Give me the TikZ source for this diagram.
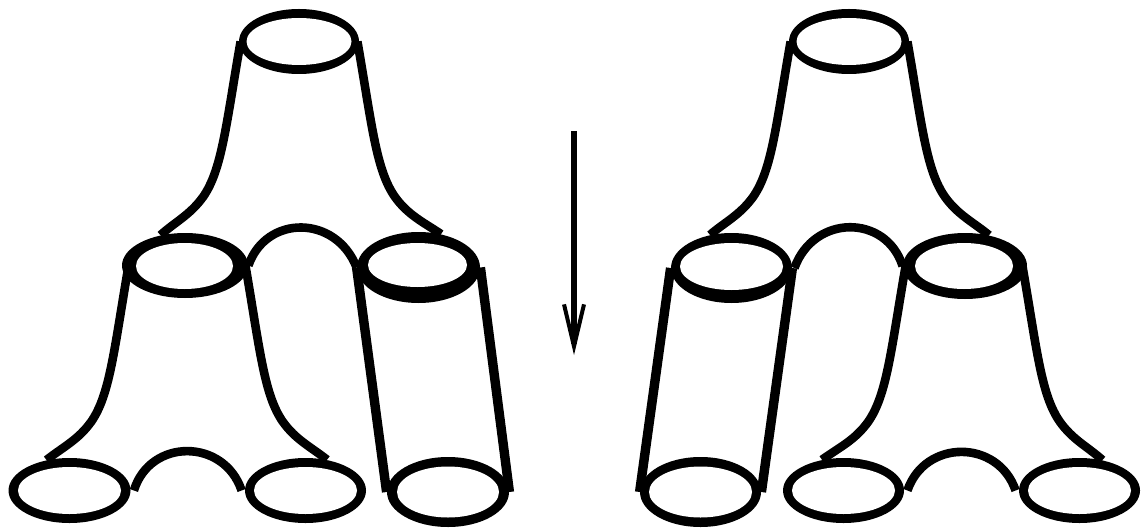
\documentclass[tikz,border=0pt]{standalone}
\usepackage{xcolor}
\usetikzlibrary{shapes.geometric, arrows.meta, positioning}
\tikzset{
  %% Outer edge of a circle
  rim/.style 2 args={
    ellipse, fill=black, inner sep=0pt,
    minimum width=#1*0.5pt, minimum height=#2*0.5pt
  },
  %% Hole inside a rim
  hole/.style 2 args={
    ellipse, fill=white, inner sep=0pt,
    minimum width=#1*0.5pt, minimum height=#2*0.5pt
  },
  %% Curved walls and straight tubes
  wall/.style={draw=black, line width=4.3pt},
  tube/.style={draw=black, line width=4.7pt},
  %% Arrow
  arr/.style={-{Straight Barb[length=21pt,width=10pt,line width=2pt]},
              draw=black, line width=3pt},
}
\begin{document}
\begin{tikzpicture}[x=0.5pt, y=-0.5pt]
  \useasboundingbox (0,0) rectangle (1143,529);

  %% Left surface circles
  \node[rim={120}{65}]   (ltop) at (299,41.5)  {};
  \node[hole={105}{47}]  (ltoph) at (299,41.5) {};
  \node[rim={126}{65}]   (lmida) at (185,265.5) {};
  \node[hole={97}{46}]   (lmidah) at (184.5,266) {};
  \node[rim={123}{71}]   (lmidb) at (418.5,267.5) {};
  \node[hole={99}{44}]   (lmidbh) at (417.5,265) {};
  \node[rim={122}{65}]   (lbota) at (69.5,490.5) {};
  \node[hole={103}{47}]  (lbotah) at (69.5,490.5) {};
  \node[rim={121}{65}]   (lbotb) at (305.5,490.5) {};
  \node[hole={103}{47}]  (lbotbh) at (305.5,490.5) {};
  \node[rim={122}{70}]   (lbotc) at (448,492)  {};
  \node[hole={102}{51}]  (lbotch) at (448,492) {};

  %% Right surface circles
  \node[rim={120}{65}]   (rtop) at (849,41.5)  {};
  \node[hole={105}{47}]  (rtoph) at (849,41.5) {};
  \node[rim={121}{70}]   (rmida) at (731.5,268) {};
  \node[hole={103}{47}]  (rmidah) at (731.5,266.5) {};
  \node[rim={124}{66}]   (rmidb) at (965,266)  {};
  \node[hole={98}{46}]   (rmidbh) at (964,266) {};
  \node[rim={121}{70}]   (rbota) at (700.5,492) {};
  \node[hole={103}{51}]  (rbotah) at (700.5,492) {};
  \node[rim={121}{65}]   (rbotb) at (843.5,490.5) {};
  \node[hole={103}{47}]  (rbotbh) at (843.5,490.5) {};
  \node[rim={121}{65}]   (rbotc) at (1079.5,490.5) {};
  \node[hole={103}{47}]  (rbotch) at (1079.5,490.5) {};

  %% Left surface walls
  \draw[wall] ([xshift=1pt]ltop.west) .. controls (226,125) and (222,170) .. (203,197)
              .. controls (190,215) and (175,222) .. (lmida.129);
  \draw[wall] ([xshift=-1pt]ltop.east) .. controls (372,125) and (376,170) .. (395,197)
              .. controls (408,215) and (423,222) .. (lmidb.56);
  \draw[wall] (lmida.east) .. controls (266,214.5) and (336,214.5) .. (lmidb.west);
  \draw[wall] ([xshift=3.5pt]lmida.west) .. controls (114,350) and (110,395) .. (91,422)
              .. controls (78,440) and (63,447) .. (lbota.127);
  \draw[wall] ([xshift=-1.5pt]lmida.east) .. controls (260,350) and (264,395) .. (283,422)
              .. controls (296,440) and (311,447) .. (lbotb.55);
  \draw[wall] ([xshift=1.5pt]lbota.east) .. controls (150,438) and (224,438) .. ([xshift=-1.5pt]lbotb.west);
  \draw[tube] (lmidb.west) -- (lbotc.west);
  \draw[tube] (lmidb.east) -- (lbotc.east);

  %% Right surface walls
  \draw[wall] ([xshift=1pt]rtop.west) .. controls (776,125) and (772,170) .. (753,197)
              .. controls (740,215) and (725,222) .. (rmida.123);
  \draw[wall] ([xshift=-1pt]rtop.east) .. controls (922,125) and (926,170) .. (945,197)
              .. controls (958,215) and (973,222) .. (rmidb.52);
  \draw[wall] ([xshift=1pt]rmida.east) .. controls (814,214) and (886,214) .. (rmidb.west);
  \draw[tube] (rmida.west) -- (rbota.west);
  \draw[tube] (rmida.east) -- (rbota.east);
  \draw[wall] ([xshift=1.5pt]rmidb.west) .. controls (891,350) and (887,395) .. (868,422)
              .. controls (855,440) and (840,447) .. (rbotb.125);
  \draw[wall] ([xshift=-2.5pt]rmidb.east) .. controls (1037,350) and (1041,395) .. (1060,422)
              .. controls (1073,440) and (1088,447) .. (rbotc.53);
  \draw[wall] ([xshift=1.5pt]rbotb.east) .. controls (925,439) and (998,439) .. ([xshift=-1.5pt]rbotc.west);

  %% Arrow
  \coordinate (astart) at (574,131);
  \coordinate (aend) at (574,355);
  \draw[arr] (astart) -- (aend);
\end{tikzpicture}
\end{document}
